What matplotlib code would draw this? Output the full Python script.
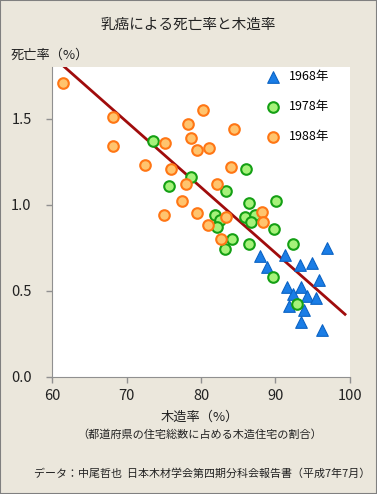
import matplotlib
matplotlib.use('Agg')
import matplotlib.pyplot as plt
from matplotlib.patches import Rectangle

plt.rcParams['font.family'] = ['Noto Sans CJK JP', 'DejaVu Sans']

# 1968
x68 = [87.9, 91.3, 96.9, 88.8, 93.3, 94.9, 91.5, 93.4, 95.8, 92.4, 94.2, 95.5, 91.8, 93.8, 93.4, 96.2]
y68 = [0.70, 0.71, 0.75, 0.64, 0.65, 0.66, 0.52, 0.52, 0.56, 0.48, 0.47, 0.46, 0.41, 0.39, 0.32, 0.27]
# 1978
x78 = [73.5, 78.6, 75.7, 83.4, 81.8, 82.6, 82.1, 84.1, 83.2, 86.1, 86.5, 90.1, 85.9, 87.2, 86.7, 89.8,
       86.5, 92.4, 89.7, 92.9]
y78 = [1.37, 1.16, 1.11, 1.08, 0.94, 0.91, 0.87, 0.80, 0.74, 1.21, 1.01, 1.02, 0.93, 0.94, 0.90, 0.86,
       0.77, 0.77, 0.58, 0.42]
# 1988
x88 = [61.4, 68.1, 68.1, 72.4, 75.1, 75.9, 75.0, 77.4, 78.0, 78.2, 78.6, 79.4, 80.2, 81.1, 79.5, 80.9,
       82.2, 82.7, 83.4, 84.0, 84.4, 88.2, 88.3]
y88 = [1.71, 1.51, 1.34, 1.23, 1.36, 1.21, 0.94, 1.02, 1.12, 1.47, 1.39, 1.32, 1.55, 1.33, 0.95, 0.88,
       1.12, 0.80, 0.93, 1.22, 1.44, 0.96, 0.90]
# trend line
trend_x = [61.4, 99.35]
trend_y = [1.81, 0.363]

bg = '#ebe7dc'
fig = plt.figure(figsize=(3.77, 4.94), dpi=100, facecolor=bg)
fig.patches.append(Rectangle((0, 0), 1, 1, transform=fig.transFigure, fill=False,
                             edgecolor='#808080', linewidth=1.5))
ax = fig.add_axes([0.139, 0.2374, 0.789, 0.6266])
ax.set_facecolor('white')

ax.plot(trend_x, trend_y, color='#a00c0c', linewidth=2, zorder=2)
ax.scatter(x68, y68, marker='^', s=70, color='#1a7de6', edgecolor='#0b63c4', linewidth=0.8,
           zorder=3, label='1968年')
ax.scatter(x78, y78, marker='o', s=58, color='#a6f27a', edgecolor='#14a014', linewidth=1.5,
           zorder=3, label='1978年')
ax.scatter(x88, y88, marker='o', s=58, color='#ffc46e', edgecolor='#ff7614', linewidth=1.5,
           zorder=3, label='1988年')

ax.set_xlim(60, 100)
ax.set_ylim(0, 1.8)
ax.set_xticks([60, 70, 80, 90, 100])
ax.set_yticks([0.0, 0.5, 1.0, 1.5])
ax.set_yticklabels(['0.0', '0.5', '1.0', '1.5'])
for s in ['top', 'right']:
    ax.spines[s].set_visible(False)
for s in ['left', 'bottom']:
    ax.spines[s].set_color('#909090')
ax.tick_params(colors='#909090', labelcolor='#222222', labelsize=10.5, length=4, width=1)
ax.tick_params(axis='y', pad=11)
ax.tick_params(axis='x', pad=5)

ax.legend(loc='upper left', frameon=False, fontsize=9, handletextpad=0.7, handlelength=1.2,
          labelspacing=1.35, borderpad=0.0, borderaxespad=0.0, bbox_to_anchor=(0.715, 0.99))

fig.text(0.5, 0.95, '乳癌による死亡率と木造率', ha='center', va='center', fontsize=10.5, color='#222222')
fig.text(0.027, 0.888, '死亡率（%）', ha='left', va='center', fontsize=9.5, color='#222222')
fig.text(0.53, 0.156, '木造率（%）', ha='center', va='center', fontsize=9.5, color='#222222')
fig.text(0.53, 0.121, '（都道府県の住宅総数に占める木造住宅の割合）', ha='center', va='center',
         fontsize=8, color='#222222')
fig.text(0.09, 0.041, 'データ：中尾哲也  日本木材学会第四期分科会報告書（平成7年7月）', ha='left',
         va='center', fontsize=7.9, color='#222222')

fig.savefig('out.png', dpi=100, facecolor=bg)
